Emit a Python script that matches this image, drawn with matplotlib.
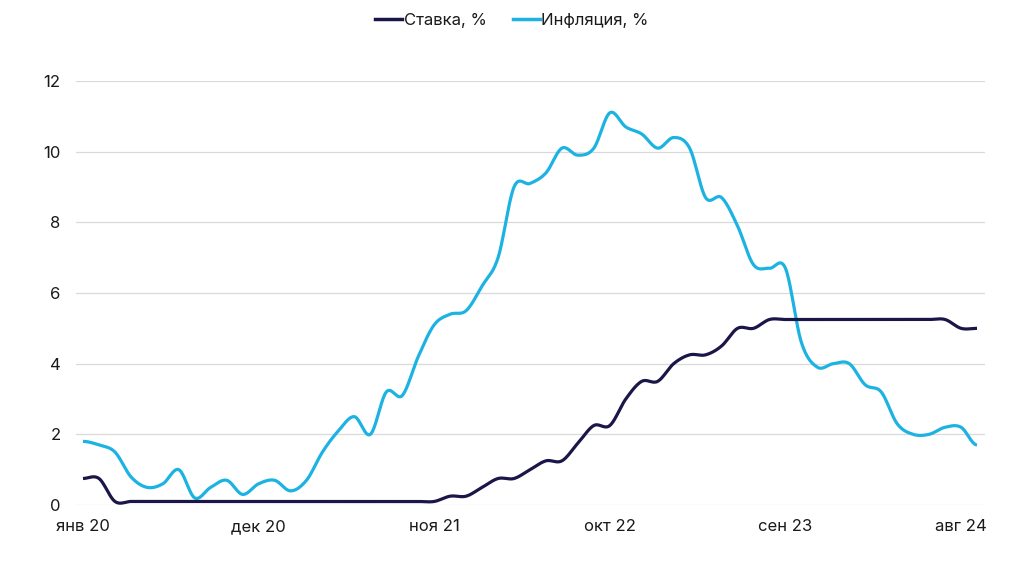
import numpy as np
import matplotlib
matplotlib.use("Agg")
import matplotlib.pyplot as plt
from matplotlib.lines import Line2D

plt.rcParams['font.family'] = ['Inter', 'DejaVu Sans']

# Monthly data, Jan 2020 .. Sep 2024
rate = [0.75, 0.75, 0.1, 0.1, 0.1, 0.1, 0.1, 0.1, 0.1, 0.1, 0.1, 0.1,
        0.1, 0.1, 0.1, 0.1, 0.1, 0.1, 0.1, 0.1, 0.1, 0.1, 0.1, 0.25,
        0.25, 0.5, 0.75, 0.75, 1.0, 1.25, 1.25, 1.75, 2.25, 2.25, 3.0, 3.5,
        3.5, 4.0, 4.25, 4.25, 4.5, 5.0, 5.0, 5.25, 5.25, 5.25, 5.25, 5.25,
        5.25, 5.25, 5.25, 5.25, 5.25, 5.25, 5.25, 5.0, 5.0]
inflation = [1.8, 1.7, 1.5, 0.8, 0.5, 0.6, 1.0, 0.2, 0.5, 0.7, 0.3, 0.6,
             0.7, 0.4, 0.7, 1.5, 2.1, 2.5, 2.0, 3.2, 3.1, 4.2, 5.1, 5.4,
             5.5, 6.2, 7.0, 9.0, 9.1, 9.4, 10.1, 9.9, 10.1, 11.1, 10.7, 10.5,
             10.1, 10.4, 10.1, 8.7, 8.7, 7.9, 6.8, 6.7, 6.7, 4.6, 3.9, 4.0,
             4.0, 3.4, 3.2, 2.3, 2.0, 2.0, 2.2, 2.2, 1.7]
tick_labels = ["янв 20", "дек 20", "ноя 21", "окт 22", "сен 23", "авг 24"]
tick_positions = [0, 11, 22, 33, 44, 55]
yticks = [0, 2, 4, 6, 8, 10, 12]

RATE_C = "#1b1648"
INF_C = "#1cb3e3"
TEXT_C = "#1a1a1a"


def catmull_rom(y, n=20):
    y = np.asarray(y, dtype=float)
    x = np.arange(len(y), dtype=float)
    m = np.zeros_like(y)
    m[1:-1] = (y[2:] - y[:-2]) / 2.0
    xs, ys = [], []
    for i in range(len(y) - 1):
        t = np.linspace(0, 1, n, endpoint=False)
        h00 = 2 * t**3 - 3 * t**2 + 1
        h10 = t**3 - 2 * t**2 + t
        h01 = -2 * t**3 + 3 * t**2
        h11 = t**3 - t**2
        ys.append(h00 * y[i] + h10 * m[i] + h01 * y[i + 1] + h11 * m[i + 1])
        xs.append(x[i] + t)
    xs.append([x[-1]])
    ys.append([y[-1]])
    return np.concatenate(xs), np.concatenate(ys)


fig = plt.figure(figsize=(10.24, 5.71), dpi=100)
ax = fig.add_axes([76 / 1024, 1 - 505 / 571, (985 - 76) / 1024, (505 - 81) / 571])

xr, yr = catmull_rom(rate)
xi, yi = catmull_rom(inflation)
ax.plot(xi, yi, color=INF_C, lw=2.3, solid_capstyle='butt', clip_on=False, zorder=3)
ax.plot(xr, yr, color=RATE_C, lw=2.3, solid_capstyle='butt', clip_on=False, zorder=4)

x0 = 83
step = (977 - 83) / 56
ax.set_xlim(-(x0 - 76) / step, (985 - x0) / step)
ax.set_ylim(0, 12)

for v in yticks:
    ax.axhline(v, color="#d9d9d9", lw=0.9, zorder=1)
for s in ax.spines.values():
    s.set_visible(False)

ax.set_yticks(yticks)
ax.set_yticklabels([str(v) for v in yticks], fontsize=12, color=TEXT_C)
ax.set_xticks(tick_positions)
ax.set_xticklabels(tick_labels, fontsize=12, color=TEXT_C)
ax.tick_params(axis='both', length=0)
ax.tick_params(axis='y', pad=11)
ax.tick_params(axis='x', pad=10)

handles = [Line2D([0], [0], color=RATE_C, lw=2.5),
           Line2D([0], [0], color=INF_C, lw=2.5)]
fig.legend(handles, ["Ставка, %", "Инфляция, %"], loc='center',
           bbox_to_anchor=(0.5, 1 - 20 / 571), ncol=2, frameon=False,
           fontsize=12, handlelength=1.6, handletextpad=0.1, columnspacing=1.6,
           labelcolor=TEXT_C)

fig.savefig("out.png", dpi=100, facecolor="white")
